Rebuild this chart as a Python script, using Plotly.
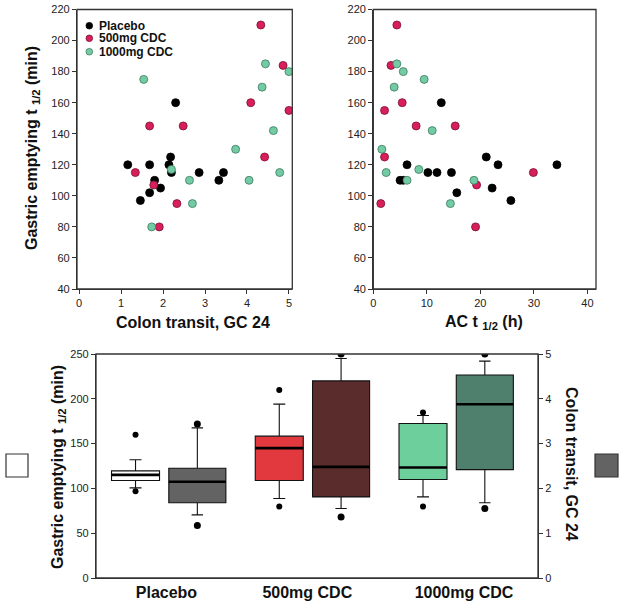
import plotly.graph_objects as go

W, H = 624, 608

# ---- scatter data ----
placebo_ct = [1.16, 1.68, 2.30, 2.18, 2.14, 2.20, 1.80, 1.68, 1.94, 1.46, 2.86, 3.44, 3.33]
placebo_ge = [120, 120, 160, 125, 120, 115, 110, 102, 105, 97, 115, 115, 110]
cdc500_ct = [4.33, 4.86, 4.09, 5.00, 1.68, 2.48, 4.42, 1.34, 1.78, 2.33, 1.91]
cdc500_ge = [210, 184, 160, 155, 145, 145, 125, 115, 107, 95, 80]
cdc1000_ct = [1.54, 4.44, 5.00, 4.36, 4.63, 3.73, 2.20, 2.63, 4.05, 4.78, 2.70, 1.73]
cdc1000_ge = [175, 185, 180, 170, 142, 130, 117, 110, 110, 115, 95, 80]

placebo_ac = [12.7, 6.3, 5.0, 5.6, 10.2, 11.9, 14.6, 15.6, 21.1, 23.3, 22.2, 25.7, 34.3]
placebo_ge2 = [160, 120, 110, 110, 115, 115, 115, 102, 125, 120, 105, 97, 120]
cdc500_ac = [4.4, 3.3, 5.4, 2.1, 8.0, 15.3, 2.1, 29.9, 19.3, 1.4, 19.1]
cdc500_ge2 = [210, 184, 160, 155, 145, 145, 125, 115, 107, 95, 80]
cdc1000_ac = [4.4, 5.6, 9.5, 3.9, 11.0, 1.6, 8.5, 2.4, 6.3, 18.8, 14.4]
cdc1000_ge2 = [185, 180, 175, 170, 142, 130, 117, 115, 110, 110, 95]

# ---- box plot summaries: gastric emptying (left axis) ----
groups = ["Placebo", "500mg CDC", "1000mg CDC"]
ge_q1 = [108.8, 108.8, 109.9]
ge_med = [115.1, 144.9, 123.3]
ge_q3 = [119.6, 158.3, 172.5]
ge_lo = [100.6, 88.7, 90.5]
ge_hi = [131.9, 194.1, 181.4]
ge_out_low = [96.9, 79.7, 79.7]
ge_out_high = [159.8, 209.8, 184.8]

# ---- box plot summaries: colon transit (right axis) ----
ct_q1 = [1.68, 1.81, 2.42]
ct_med = [2.15, 2.48, 3.88]
ct_q3 = [2.45, 4.40, 4.53]
ct_lo = [1.41, 1.55, 1.68]
ct_hi = [3.35, 4.90, 4.84]
ct_out_low = [1.17, 1.36, 1.55]
ct_out_high = [3.44, 5.00, 5.00]

ge_colors = ["#ffffff", "#e2393f", "#6dcf9b"]
ct_colors = ["#636363", "#5b2c2c", "#4f7f6d"]

FONT = "Liberation Sans, Arial, sans-serif"
AXC = "#333333"

# pixel boxes of the three panels (left, right, top, bottom)
P1 = (77, 292.3, 9.5, 289)
P2 = (373.3, 596, 9.5, 289)
P3 = (96, 538, 354, 578)


def px(x):
    return x / W


def py(y):
    return 1 - y / H


def scatter_axes(panel, xrange, xdtick):
    common = dict(showline=True, linecolor=AXC, linewidth=1.3, automargin=False,
                  ticks="outside", ticklen=4, tickcolor=AXC, showgrid=False, zeroline=False,
                  tickfont=dict(size=11, color="#222"))
    xa = dict(common, domain=[px(panel[0]), px(panel[1])], range=xrange, dtick=xdtick, tick0=0)
    ya = dict(common, domain=[py(panel[3]), py(panel[2])], range=[40, 220], dtick=20)
    return xa, ya


fig = go.Figure()

series = [
    ("Placebo", "#000000", "#000000", placebo_ct, placebo_ge, placebo_ac, placebo_ge2),
    ("500mg CDC", "#d81f5b", "#7a1030", cdc500_ct, cdc500_ge, cdc500_ac, cdc500_ge2),
    ("1000mg CDC", "#72cba3", "#3d7a62", cdc1000_ct, cdc1000_ge, cdc1000_ac, cdc1000_ge2),
]
for name, col, edge, ct, ge, ac, ge2 in series:
    mk = dict(size=8, color=col, line=dict(color=edge, width=0.8))
    fig.add_trace(go.Scatter(x=ct, y=ge, mode="markers", marker=mk, name=name,
                             xaxis="x", yaxis="y", showlegend=False))
    fig.add_trace(go.Scatter(x=ac, y=ge2, mode="markers", marker=mk, name=name,
                             xaxis="x2", yaxis="y2", showlegend=False))

# box plot: positions relative to each group centre
off = 0.215
w_ge, w_ct = 0.334, 0.397
for i, g in enumerate(groups):
    pg, pc = i - off, i + off
    fig.add_trace(go.Box(x=[pg], q1=[ge_q1[i]], median=[ge_med[i]], q3=[ge_q3[i]],
                         lowerfence=[ge_lo[i]], upperfence=[ge_hi[i]], width=w_ge,
                         fillcolor=ge_colors[i], line=dict(color="#111", width=1.1),
                         whiskerwidth=0.25, boxpoints=False, name=g,
                         xaxis="x3", yaxis="y3", showlegend=False))
    fig.add_trace(go.Box(x=[pc], q1=[ct_q1[i]], median=[ct_med[i]], q3=[ct_q3[i]],
                         lowerfence=[ct_lo[i]], upperfence=[ct_hi[i]], width=w_ct,
                         fillcolor=ct_colors[i], line=dict(color="#111", width=1.1),
                         whiskerwidth=0.2, boxpoints=False, name=g,
                         xaxis="x3", yaxis="y4", showlegend=False))
    # thick median bars
    fig.add_trace(go.Scatter(x=[pg - w_ge / 2, pg + w_ge / 2], y=[ge_med[i]] * 2, mode="lines",
                             line=dict(color="#000", width=2.6), xaxis="x3", yaxis="y3",
                             showlegend=False, hoverinfo="skip"))
    fig.add_trace(go.Scatter(x=[pc - w_ct / 2, pc + w_ct / 2], y=[ct_med[i]] * 2, mode="lines",
                             line=dict(color="#000", width=2.6), xaxis="x3", yaxis="y4",
                             showlegend=False, hoverinfo="skip"))
    fig.add_trace(go.Scatter(x=[pg, pg], y=[ge_out_low[i], ge_out_high[i]], mode="markers",
                             marker=dict(size=6, color="#000"), xaxis="x3", yaxis="y3",
                             showlegend=False))
    fig.add_trace(go.Scatter(x=[pc, pc], y=[ct_out_low[i], ct_out_high[i]], mode="markers",
                             marker=dict(size=7, color="#000"), xaxis="x3", yaxis="y4",
                             showlegend=False))

xa1, ya1 = scatter_axes(P1, [-0.05, 5.08], 1)
xa2, ya2 = scatter_axes(P2, [0, 41.6], 10)

box_common = dict(showline=True, linecolor=AXC, linewidth=1.3, ticks="outside", ticklen=4,
                  tickcolor=AXC, showgrid=False, zeroline=False, automargin=False,
                  tickfont=dict(size=11, color="#222"))
fig.update_layout(
    width=W, height=H,
    margin=dict(l=0, r=0, t=0, b=0, autoexpand=False),
    paper_bgcolor="white", plot_bgcolor="white",
    font=dict(family=FONT, color="#111"),
    xaxis=xa1, yaxis=ya1,
    xaxis2=dict(xa2, anchor="y2"), yaxis2=dict(ya2, anchor="x2"),
    xaxis3=dict(showline=True, linecolor=AXC, linewidth=1.3, showgrid=False,
                zeroline=False, domain=[px(P3[0]), px(P3[1])], range=[-0.49, 2.585],
                tickvals=[0, 0.98, 2.07], ticktext=[f"<b>{g}</b>" for g in groups], ticks="",
                tickfont=dict(size=16, color="#111", family=FONT), anchor="y3",
                automargin=False),
    yaxis3=dict(box_common, domain=[py(P3[3]), py(P3[2])], range=[0, 250], dtick=50, anchor="x3"),
    yaxis4=dict(box_common, range=[0, 5], dtick=1, overlaying="y3", side="right", anchor="x3"),
    showlegend=False,
)

# plot frames (paper coords)
for l, r, t, b in (P1, P2, P3):
    fig.add_shape(type="rect", xref="paper", yref="paper", x0=px(l), x1=px(r), y0=py(b), y1=py(t),
                  line=dict(color=AXC, width=1.3), layer="above")

# axis titles
titles = [
    ("<b>Gastric emptying t <sub>1/2</sub> (min)</b>", 32, 148, -90),
    ("<b>Colon transit, GC 24</b>", 192.7, 322, 0),
    ("<b>AC t <sub>1/2</sub> (h)</b>", 484, 322, 0),
    ("<b>Gastric emptying t <sub>1/2</sub> (min)</b>", 58, 467, -90),
    ("<b>Colon transit, GC 24</b>", 572, 464, 90),
]
for text, x, y, ang in titles:
    fig.add_annotation(text=text, x=px(x), y=py(y), xref="paper", yref="paper",
                       showarrow=False, textangle=ang, font=dict(size=16, color="#111"),
                       xanchor="center", yanchor="middle")

# custom legend inside first scatter
for (name, col, edge, *_), ly in zip(series, [25.7, 38.3, 51.7]):
    r = 3.3
    fig.add_shape(type="circle", xref="paper", yref="paper",
                  x0=px(89.3 - r), x1=px(89.3 + r), y0=py(ly + r), y1=py(ly - r),
                  fillcolor=col, line=dict(color=edge, width=0.8))
    fig.add_annotation(text=f"<b>{name}</b>", x=px(97), y=py(ly), xref="paper", yref="paper",
                       showarrow=False, xanchor="left", yanchor="middle",
                       font=dict(size=12, color="#111"))

# side keys for the two box axes
fig.add_shape(type="rect", xref="paper", yref="paper", x0=px(6), x1=px(28), y0=py(477), y1=py(454),
              fillcolor="#ffffff", line=dict(color="#333", width=1.2))
fig.add_shape(type="rect", xref="paper", yref="paper", x0=px(595), x1=px(618), y0=py(477), y1=py(454),
              fillcolor="#636363", line=dict(color="#333", width=1.2))

# page body has a default margin; drop it so the figure sits at the window corner
fig.write_html("out.html", config={"displayModeBar": False},
               post_script="document.body.style.margin='0px';")
